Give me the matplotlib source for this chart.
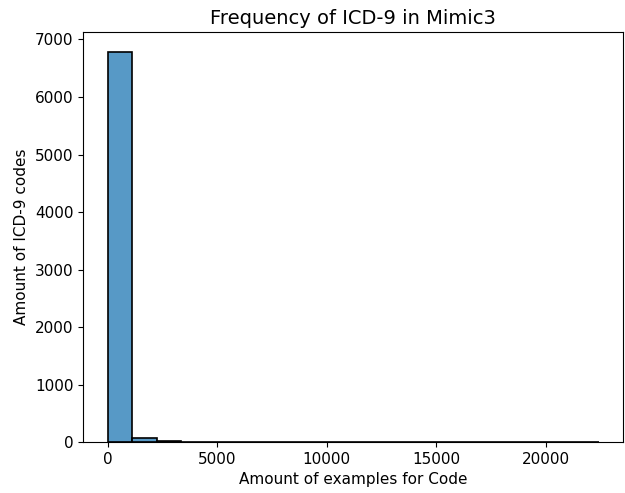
import numpy as np
import matplotlib
matplotlib.use('Agg')
import matplotlib.pyplot as plt

# Histogram of examples per ICD-9 code (20 equal bins up to the max count)
max_examples = 22400
bin_edges = np.linspace(0, max_examples, 21)
bin_counts = [6790, 70, 25, 8, 3, 2, 1, 1, 0, 1, 0, 0, 1, 0, 0, 0, 0, 0, 0, 1]

centers = (bin_edges[:-1] + bin_edges[1:]) / 2

fig, ax = plt.subplots(figsize=(6.25, 4.93), dpi=100)
ax.hist(centers, bins=bin_edges, weights=bin_counts,
        facecolor=(0.122, 0.467, 0.706, 0.75), edgecolor='black', linewidth=1.2)
ax.margins(x=0.05, y=0.05)

ax.set_title('Frequency of ICD-9 in Mimic3', fontsize=14)
ax.set_xlabel('Amount of examples for Code', fontsize=11)
ax.set_ylabel('Amount of ICD-9 codes', fontsize=11)
ax.tick_params(axis='both', which='major', labelsize=11)

fig.subplots_adjust(left=0.133, right=0.997, top=0.935, bottom=0.103)
fig.savefig('out.png', dpi=100)
